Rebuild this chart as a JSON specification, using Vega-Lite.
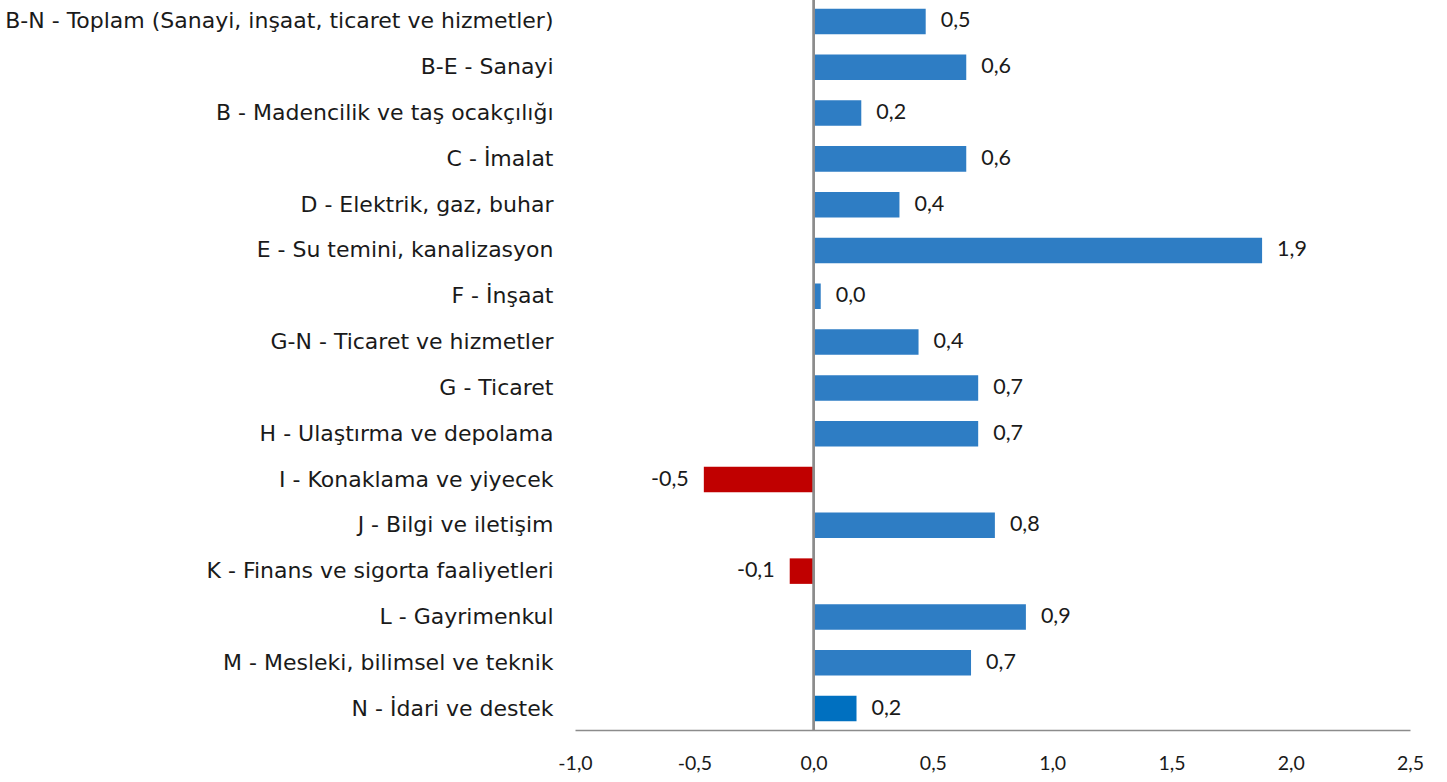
{
  "$schema": "https://vega.github.io/schema/vega-lite/v6.json",
  "autosize": {"type": "none"},
  "width": 835,
  "height": 730,
  "padding": {"left": 575, "top": 0, "right": 37, "bottom": 52},
  "background": "white",
  "config": {
    "view": {"stroke": null},
    "locale": {"number": {"decimal": ",", "thousands": ".", "grouping": [3], "currency": ["", " TL"], "minus": "-"}}
  },
  "data": {
    "values": [
      {"sector": "B-N - Toplam (Sanayi, inşaat, ticaret ve hizmetler)", "value": 0.47},
      {"sector": "B-E - Sanayi", "value": 0.64},
      {"sector": "B - Madencilik ve taş ocakçılığı", "value": 0.20},
      {"sector": "C - İmalat", "value": 0.64},
      {"sector": "D - Elektrik, gaz, buhar", "value": 0.36},
      {"sector": "E - Su temini, kanalizasyon", "value": 1.88},
      {"sector": "F - İnşaat", "value": 0.03},
      {"sector": "G-N - Ticaret ve hizmetler", "value": 0.44},
      {"sector": "G - Ticaret", "value": 0.69},
      {"sector": "H - Ulaştırma ve depolama", "value": 0.69},
      {"sector": "I - Konaklama ve yiyecek", "value": -0.46},
      {"sector": "J - Bilgi ve iletişim", "value": 0.76},
      {"sector": "K - Finans ve sigorta faaliyetleri", "value": -0.10},
      {"sector": "L - Gayrimenkul", "value": 0.89},
      {"sector": "M - Mesleki, bilimsel ve teknik", "value": 0.66},
      {"sector": "N - İdari ve destek", "value": 0.18}
    ]
  },
  "encoding": {
    "y": {
      "field": "sector", "type": "nominal", "sort": null, "title": null,
      "scale": {"paddingInner": 0.443, "paddingOuter": 0.19},
      "axis": {"domain": false, "ticks": false, "labelPadding": 22, "labelFont": "DejaVu Sans", "labelFontSize": 22, "labelColor": "#1a1a1a", "labelLimit": 600}
    },
    "x": {
      "field": "value", "type": "quantitative", "title": null,
      "scale": {"domain": [-1, 2.5], "nice": false, "zero": false},
      "axis": {"values": [-1, -0.5, 0, 0.5, 1, 1.5, 2, 2.5], "format": ".1f", "grid": false, "ticks": false, "domainColor": "#8c8c8c", "domainWidth": 1.3, "labelPadding": 24, "labelFont": "Lato", "labelFontSize": 19.5, "labelColor": "#1a1a1a", "labelFlush": false}
    }
  },
  "layer": [
    {
      "mark": {"type": "bar"},
      "encoding": {
        "color": {
          "condition": [
            {"test": "datum.value < 0", "value": "#C00000"},
            {"test": "datum.sector === 'N - İdari ve destek'", "value": "#0070C0"}
          ],
          "value": "#2E7DC4"
        }
      }
    },
    {
      "mark": {"type": "rule", "color": "#8c8c8c", "strokeWidth": 1.3},
      "encoding": {"x": {"datum": 0}, "y": null}
    },
    {
      "transform": [{"filter": "datum.value >= 0"}],
      "mark": {"type": "text", "align": "left", "dx": 15, "font": "Lato", "fontSize": 21.5, "color": "#1a1a1a"},
      "encoding": {"text": {"field": "value", "type": "quantitative", "format": ".1f"}}
    },
    {
      "transform": [{"filter": "datum.value < 0"}],
      "mark": {"type": "text", "align": "right", "dx": -15, "font": "Lato", "fontSize": 21.5, "color": "#1a1a1a"},
      "encoding": {"text": {"field": "value", "type": "quantitative", "format": ".1f"}}
    }
  ]
}
